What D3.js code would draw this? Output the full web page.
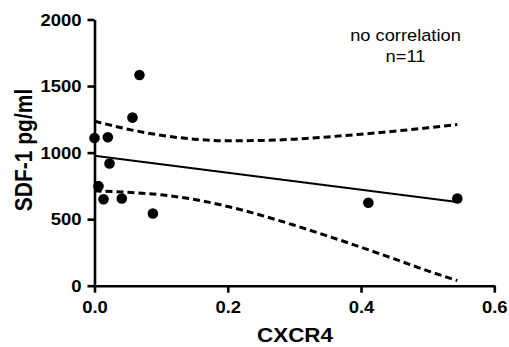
<!DOCTYPE html>
<html><head><meta charset="utf-8">
<script src="https://cdn.jsdelivr.net/npm/d3@7"></script>
<style>
html,body{margin:0;padding:0;background:#fff;}
svg{display:block;}
text{font-family:"Liberation Sans",Arial,Helvetica,sans-serif;fill:#000;}
</style></head>
<body>
<svg id="chart" width="509" height="347"></svg>
<script>
// Data
const cxcr4 = [0.000, 0.020, 0.0225, 0.006, 0.0135, 0.041, 0.0876, 0.057, 0.0675, 0.411, 0.5445];
const sdf1  = [1110, 1115, 918, 748, 650, 655, 543, 1263, 1583, 623, 655];
// Regression line end points
const fitX = [0, 0.5445];
const fitY = [976, 628];
// 95% confidence band
const bandX     = [0, 0.05, 0.10, 0.15, 0.20, 0.25, 0.30, 0.35, 0.40, 0.45, 0.50, 0.5445];
const bandUpper = [1236, 1176, 1130, 1101, 1089, 1091, 1101, 1118, 1138, 1161, 1186, 1212];
const bandLower = [712, 702, 683, 648, 595, 529, 454, 373, 289, 201, 112, 38];
const xTicks = [0, 0.2, 0.4, 0.6];
const yTicks = [0, 500, 1000, 1500, 2000];
const xTitle = "CXCR4";
const yTitle = "SDF-1 pg/ml";
const note1 = "no correlation";
const note2 = "n=11";

const svg = d3.select("#chart");
const x = d3.scaleLinear().domain([0, 0.6]).range([94.5, 494.3]);
const y = d3.scaleLinear().domain([0, 2000]).range([285.7, 19.5]);
const SX = 1.12; // horizontal stretch of text

// Axes
const gx = svg.append("g").attr("transform", `translate(0,${y(0)})`)
  .call(d3.axisBottom(x).tickValues(xTicks).tickFormat(d3.format(".1f")).tickSize(7).tickSizeOuter(0));
const gy = svg.append("g").attr("transform", `translate(${x(0)},0)`)
  .call(d3.axisLeft(y).tickValues(yTicks).tickFormat(d3.format("d")).tickSize(7).tickSizeOuter(0));
[gx, gy].forEach(g => {
  g.select(".domain").attr("stroke", "#000").attr("stroke-width", 2.6);
  g.selectAll(".tick line").attr("stroke", "#000").attr("stroke-width", 2.6);
  g.selectAll("text").attr("font-size", 16.5).attr("font-weight", "bold")
    .attr("font-family", '"Liberation Sans",Arial,sans-serif').attr("fill", "#000");
});
gx.selectAll("text").attr("y", 0).attr("dy", 0)
  .attr("transform", `translate(0,27.6) scale(${SX},1)`);
gy.selectAll("text").attr("x", 0).attr("dy", 0)
  .attr("dominant-baseline", "central")
  .attr("transform", `translate(-13,0) scale(${SX},1)`);

// Confidence band
const bandLine = () => d3.line().x((d, i) => x(bandX[i])).y(d => y(d)).curve(d3.curveMonotoneX);
[bandUpper, bandLower].forEach(arr => {
  svg.append("path").datum(arr).attr("d", bandLine()).attr("fill", "none")
    .attr("stroke", "#000").attr("stroke-width", 3).attr("stroke-dasharray", "7,4");
});

// Regression line
svg.append("path").datum(fitX.map((v, i) => [v, fitY[i]]))
  .attr("d", d3.line().x(d => x(d[0])).y(d => y(d[1])))
  .attr("fill", "none").attr("stroke", "#000").attr("stroke-width", 2);

// Points
svg.append("g").selectAll("circle").data(cxcr4).join("circle")
  .attr("cx", d => x(d)).attr("cy", (d, i) => y(sdf1[i])).attr("r", 5.3).attr("fill", "#000");

// Titles
svg.append("text").attr("transform", `translate(295,341.5) scale(${SX},1)`)
  .attr("text-anchor", "middle").attr("font-size", 20).attr("font-weight", "bold").text(xTitle);
svg.append("text").attr("transform", `translate(32,150) scale(${SX},1) rotate(-90)`)
  .attr("text-anchor", "middle").attr("font-size", 21).attr("font-weight", "bold").text(yTitle);

// Annotation
svg.append("text").attr("transform", `translate(405.5,40.7) scale(${SX},1)`)
  .attr("text-anchor", "middle").attr("font-size", 16.3).text(note1);
svg.append("text").attr("transform", `translate(405.5,61.7) scale(${SX},1)`)
  .attr("text-anchor", "middle").attr("font-size", 16.3).text(note2);
</script>
</body></html>
